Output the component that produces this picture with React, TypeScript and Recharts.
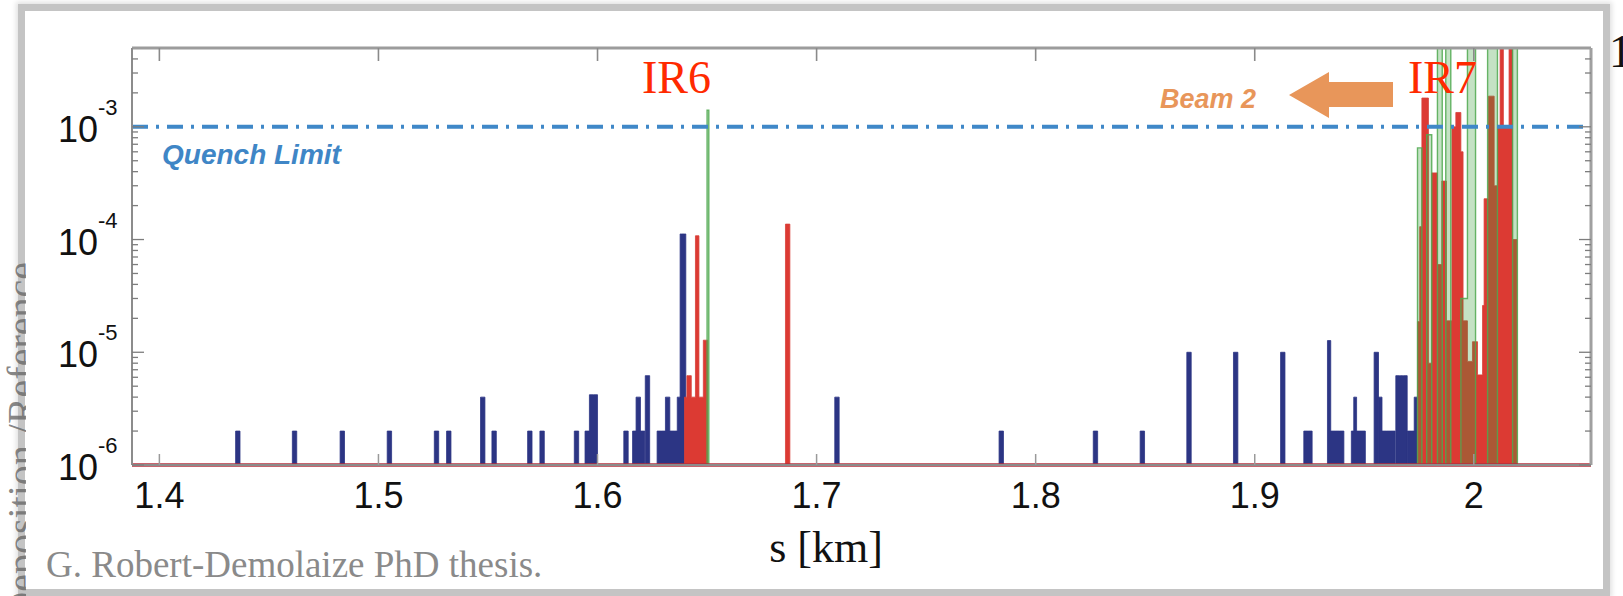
import React from "react";
import { ComposedChart, Area, XAxis, YAxis, ReferenceLine } from "recharts";

// loss map, beam 2, IR6 -> IR7 (s in km, local cleaning inefficiency)
const FLOOR = 1e-6;
const Y_TOP = 5e-3;
const QUENCH = 1e-3;
const X_MIN = 1.3875;
const X_MAX = 2.0535;
const BIN = 0.002;

const xTicks = [1.4, 1.5, 1.6, 1.7, 1.8, 1.9, 2.0];
const yMajor = [1e-6, 1e-5, 1e-4, 1e-3];
const yMinor = [
  2e-6, 3e-6, 4e-6, 5e-6, 6e-6, 7e-6, 8e-6, 9e-6,
  2e-5, 3e-5, 4e-5, 5e-5, 6e-5, 7e-5, 8e-5, 9e-5,
  2e-4, 3e-4, 4e-4, 5e-4, 6e-4, 7e-4, 8e-4, 9e-4,
  2e-3, 3e-3, 4e-3,
];

// [bin start (km), value, bin width (km, optional)]
type Bin = [number, number, number?];

// warm losses (blue)
const blueBins: Bin[] = [
  [1.4348, 2e-6], [1.4607, 2e-6], [1.4825, 2e-6], [1.504, 2e-6], [1.5255, 2e-6], [1.5311, 2e-6],
  [1.5466, 4e-6], [1.5518, 2e-6], [1.5681, 2e-6], [1.5737, 2e-6], [1.5894, 2e-6], [1.5943, 2e-6],
  [1.5963, 4.2e-6], [1.598, 4.2e-6],
  [1.612, 2e-6], [1.616, 2e-6], [1.6176, 4e-6], [1.6196, 2e-6], [1.6218, 6.2e-6],
  [1.6272, 2e-6], [1.629, 2e-6], [1.631, 4e-6], [1.633, 2e-6], [1.635, 2e-6], [1.6364, 4e-6],
  [1.6377, 1.12e-4, 0.0026],
  [1.7083, 4e-6],
  [1.7833, 2e-6], [1.8263, 2e-6], [1.8477, 2e-6],
  [1.869, 1e-5], [1.8903, 1e-5], [1.9118, 1e-5],
  [1.9224, 2e-6], [1.9242, 2e-6],
  [1.9332, 1.27e-5], [1.9347, 2e-6], [1.9367, 2e-6], [1.9387, 2e-6],
  [1.9441, 2e-6], [1.9452, 4e-6], [1.9465, 2e-6], [1.9485, 2e-6],
  [1.9545, 1e-5], [1.9566, 4e-6], [1.9581, 2e-6], [1.9601, 2e-6], [1.9621, 2e-6],
  [1.9644, 6.2e-6], [1.966, 6.2e-6], [1.9676, 6.2e-6], [1.9697, 2e-6], [1.9713, 2e-6], [1.9728, 4e-6],
];

// cold losses (red)
const redBins: Bin[] = [
  [1.6397, 4e-6], [1.6408, 6.2e-6], [1.6428, 4e-6], [1.6447, 1.08e-4], [1.6463, 4e-6], [1.6483, 1.28e-5],
  [1.6858, 1.37e-4],
  [1.9743, 1.87e-5, 0.001], [1.9753, 1.3e-4, 0.001], [1.9763, 1.8e-3, 0.003], [1.9793, 8e-6, 0.0015],
  [1.9808, 3.9e-4, 0.0026], [1.9834, 6e-5, 0.002], [1.9854, 3.3e-4, 0.0021], [1.9875, 1.9e-5, 0.0025],
  [1.99, 1.0e-3, 0.0018], [1.9918, 1.34e-3, 0.0023], [1.9941, 6e-4, 0.001], [1.9951, 1.9e-5, 0.002],
  [1.9971, 8.3e-6, 0.0023], [1.9994, 1.24e-5, 0.0023], [2.0017, 6.3e-6, 0.0023], [2.004, 2.6e-5, 0.0007],
  [2.0047, 2.3e-4, 0.002], [2.0067, 1.87e-3, 0.0026], [2.0093, 3e-4, 0.0015], [2.0108, 1.0e-3, 0.0012],
  [2.012, 8e-3, 0.0015], [2.0135, 1.0e-3, 0.0026], [2.0161, 8e-3, 0.0016], [2.0177, 1e-4, 0.002],
];

// collimators (green)
const greenBins: Bin[] = [
  [1.65, 1.4e-3, 0.0008],
  [1.9743, 6.5e-4], [1.9785, 8.5e-4, 0.0023], [1.9834, 8e-3, 0.0022], [1.9872, 8e-3, 0.0023],
  [1.9941, 3e-5, 0.003], [1.9971, 8e-3, 0.0037], [2.0063, 8e-3, 0.0045], [2.0177, 8e-3, 0.0022],
];

const valueAt = (bins: Bin[], s: number) => {
  let v = FLOOR;
  bins.forEach(([b, val, w = BIN]) => {
    if (b <= s + 1e-9 && s < b + w - 1e-9) v = val;
  });
  return v;
};

const edges = new Set<number>([X_MIN, X_MAX]);
[blueBins, redBins, greenBins].forEach((bins) =>
  bins.forEach(([b, , w = BIN]) => {
    edges.add(+b.toFixed(5));
    edges.add(+(b + w).toFixed(5));
  })
);
const data = [...edges]
  .sort((a, b) => a - b)
  .map((s) => ({
    s,
    blue: valueAt(blueBins, s),
    red: valueAt(redBins, s),
    green: valueAt(greenBins, s),
  }));

const W = 1623;
const H = 596;
const TOP_H = 48;
const BOTTOM_H = 131;
const PLOT_H = H - TOP_H - BOTTOM_H;

const NUM_FONT = "'Liberation Sans', Arial, Helvetica, sans-serif";
const SERIF = "'Liberation Serif', 'Times New Roman', serif";
const TICK = "#7d7d7d";

const YTickLeft = (props: any) => {
  const { x, y, payload } = props;
  const major = yMajor.includes(payload.value);
  const exp = Math.round(Math.log10(payload.value));
  return (
    <g>
      <line x1={x} x2={x + (major ? 12 : 6)} y1={y} y2={y} stroke={TICK} strokeWidth={1.3} />
      {major && (
        <g fontFamily={NUM_FONT} fill="#111">
          <text x={x - 34} y={y + 15} fontSize={36} textAnchor="end">10</text>
          <text x={x - 34} y={y - 12} fontSize={22} textAnchor="start">{exp}</text>
        </g>
      )}
    </g>
  );
};

const YTickRight = (props: any) => {
  const { x, y, payload } = props;
  const major = yMajor.includes(payload.value);
  return <line x1={x} x2={x - (major ? 12 : 6)} y1={y} y2={y} stroke={TICK} strokeWidth={1.3} />;
};

// bottom tick: label + inward mark, plus the matching mark on the top frame
const XTickBottom = (props: any) => {
  const { x, y, payload } = props;
  return (
    <g>
      <line x1={x} x2={x} y1={y} y2={y - 11} stroke="#9a9a9a" strokeWidth={1.5} />
      <line x1={x} x2={x} y1={y - PLOT_H} y2={y - PLOT_H + 13} stroke="#8a8a8a" strokeWidth={1.6} />
      <text x={x} y={y + 43} textAnchor="middle" fontSize={36} fontFamily={NUM_FONT} fill="#111">
        {String(payload.value)}
      </text>
    </g>
  );
};

export default function App() {
  return (
    <div style={{ position: "absolute", left: 0, top: 0, width: W, height: H, overflow: "hidden", background: "#fff" }}>
      <svg width={W} height={H} style={{ position: "absolute", left: 0, top: 0 }}>
        <text x={1609} y={67} fontFamily={SERIF} fontSize={46} fill="#111">
          1
        </text>
      </svg>

      <div
        style={{
          position: "absolute",
          left: 18,
          top: 4,
          width: 1592,
          height: 592,
          boxSizing: "border-box",
          border: "7px solid #c4c4c4",
          boxShadow: "0 0 5px 2px rgba(0,0,0,0.12)",
          background: "#fff",
        }}
      />

      {/* slide text peeking out at the left of the figure */}
      <svg width={W} height={H} style={{ position: "absolute", left: 0, top: 0 }}>
        <defs>
          <clipPath id="peek">
            <rect x={0} y={0} width={26} height={H} />
          </clipPath>
        </defs>
        <g clipPath="url(#peek)">
          <text
            x={0}
            y={0}
            transform="translate(35 262) rotate(-90)"
            textAnchor="end"
            fontFamily={SERIF}
            fontSize={40}
            fill="#666"
            fillOpacity={0.8}
          >
            Deposition /Reference
          </text>
        </g>
      </svg>

      <div style={{ position: "absolute", left: 0, top: 0 }}>
        <ComposedChart width={W} height={H} data={data} margin={{ top: 0, right: 0, bottom: 0, left: 0 }}>
          <XAxis
            dataKey="s"
            type="number"
            domain={[X_MIN, X_MAX]}
            allowDataOverflow
            ticks={xTicks}
            interval={0}
            height={BOTTOM_H}
            tickSize={0}
            tickMargin={0}
            tickLine={false}
            tick={<XTickBottom />}
            axisLine={{ stroke: "#8c8c8c", strokeWidth: 2 }}
          />
          <XAxis
            xAxisId="top"
            dataKey="s"
            orientation="top"
            type="number"
            domain={[X_MIN, X_MAX]}
            allowDataOverflow
            height={TOP_H}
            tick={false}
            tickLine={false}
            axisLine={{ stroke: "#9c9c9c", strokeWidth: 3 }}
          />
          <YAxis
            type="number"
            scale="log"
            domain={[FLOOR, Y_TOP]}
            allowDataOverflow
            ticks={[...yMajor, ...yMinor]}
            interval={0}
            width={132}
            tickSize={0}
            tickMargin={0}
            tickLine={false}
            tick={<YTickLeft />}
            axisLine={{ stroke: "#8c8c8c", strokeWidth: 2 }}
          />
          <YAxis
            yAxisId="right"
            orientation="right"
            type="number"
            scale="log"
            domain={[FLOOR, Y_TOP]}
            allowDataOverflow
            ticks={[...yMajor, ...yMinor]}
            interval={0}
            width={32}
            tickSize={0}
            tickMargin={0}
            tickLine={false}
            tick={<YTickRight />}
            axisLine={{ stroke: "#a0a0a0", strokeWidth: 3 }}
          />
          <Area
            type="stepAfter"
            dataKey="blue"
            fill="#2c3584"
            fillOpacity={1}
            stroke="#2c3584"
            strokeWidth={0.8}
            dot={false}
            activeDot={false}
            isAnimationActive={false}
          />
          <Area
            type="stepAfter"
            dataKey="red"
            fill="#dc3a33"
            fillOpacity={1}
            stroke="#d8413a"
            strokeWidth={0.8}
            dot={false}
            activeDot={false}
            isAnimationActive={false}
          />
          <Area
            type="stepAfter"
            dataKey="green"
            fill="#3d9e3d"
            fillOpacity={0.3}
            stroke="#4fa84f"
            strokeWidth={1.4}
            strokeOpacity={0.85}
            dot={false}
            activeDot={false}
            isAnimationActive={false}
          />
          <ReferenceLine y={FLOOR} stroke="#b5303c" strokeWidth={3.5} />
          <ReferenceLine y={QUENCH} stroke="#3f88c8" strokeWidth={4} strokeDasharray="16 8 3 8" />
        </ComposedChart>
      </div>

      <svg width={W} height={H} style={{ position: "absolute", left: 0, top: 0, pointerEvents: "none" }}>
        <text x={162} y={164} fontFamily={NUM_FONT} fontSize={28} fontWeight="bold" fontStyle="italic" fill="#3f86c6">
          Quench Limit
        </text>
        <text x={1160} y={108} fontFamily={NUM_FONT} fontSize={27} fontWeight="bold" fontStyle="italic" fill="#e8965a">
          Beam 2
        </text>
        <polygon points="1289,95 1329,72 1329,82 1393,82 1393,107 1329,107 1329,118" fill="#e8965a" />
        <text x={642} y={93} fontFamily={SERIF} fontSize={46} fill="#ff2a00">IR6</text>
        <text x={1408} y={93} fontFamily={SERIF} fontSize={46} fill="#ff2a00">IR7</text>
        <text x={826} y={562} textAnchor="middle" fontFamily={SERIF} fontSize={44} fill="#111">s [km]</text>
        <text x={46} y={577} fontFamily={SERIF} fontSize={37} fill="#8a8a8a">G. Robert-Demolaize PhD thesis.</text>
      </svg>
    </div>
  );
}
